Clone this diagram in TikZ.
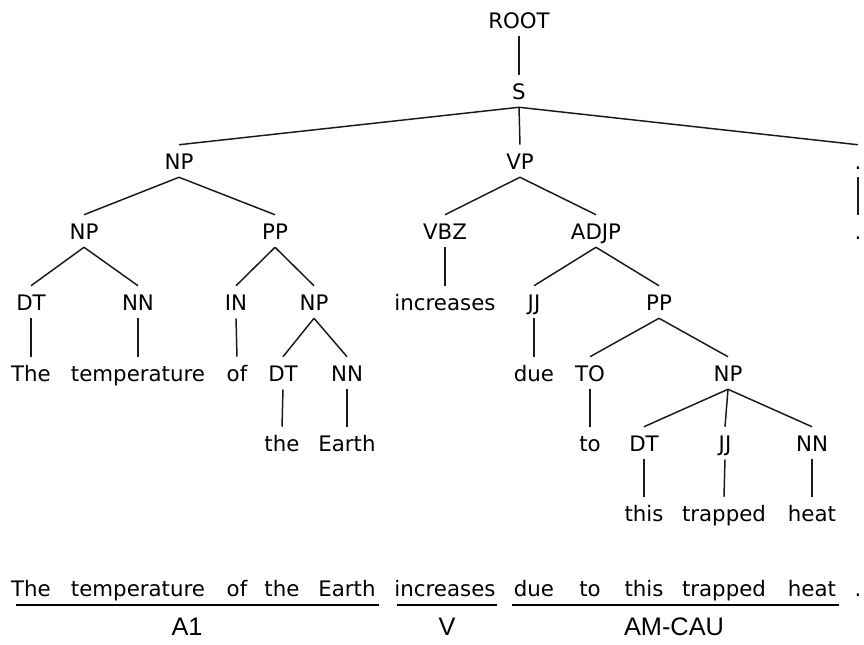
\documentclass[tikz,border=0pt]{standalone}
\usepackage{fontspec}
\newfontfamily\treefont{DejaVu Sans}
\newfontfamily\labfont{Liberation Sans}
\begin{document}
\begin{tikzpicture}[x=0.75pt,y=-0.75pt,
  t/.style={font=\treefont\fontsize{16}{18}\selectfont, text height=12pt, text depth=0pt,
            inner ysep=6pt, inner xsep=0pt, anchor=base, text=black},
  e/.style={line width=1.1pt, black!90},
  lab/.style={font=\labfont\fontsize{19}{22}\selectfont, anchor=base, inner sep=0pt},
  ul/.style={line width=1.1pt, black}]
\useasboundingbox (0,0) rectangle (864,644);
% level 1-3
\node[t] (root) at (519,28) {ROOT};
\node[t] (s) at (519,99) {S};
\node[t] (np1) at (179,169) {NP};
\node[t] (vp) at (520,169) {VP};
\node[t] (dot1) at (858,169) {.};
% level 4
\node[t] (np2) at (84,239) {NP};
\node[t] (pp1) at (275,239) {PP};
\node[t] (vbz) at (445,239) {VBZ};
\node[t] (adjp) at (596,239) {ADJP};
\node[t] (dot2) at (858,239) {.};
% level 5
\node[t] (dt1) at (31,310) {DT};
\node[t] (nn1) at (138,310) {NN};
\node[t] (in) at (236,310) {IN};
\node[t] (np3) at (314,310) {NP};
\node[t] (increases) at (445,310) {increases};
\node[t] (jj1) at (534,310) {JJ};
\node[t] (pp2) at (659,310) {PP};
% level 6
\node[t] (the1) at (31,381) {The};
\node[t] (temp) at (138,381) {temperature};
\node[t] (of) at (237,381) {of};
\node[t] (dt2) at (283,381) {DT};
\node[t] (nn2) at (347,381) {NN};
\node[t] (due) at (534,381) {due};
\node[t] (to1) at (590,381) {TO};
\node[t] (np4) at (728,381) {NP};
% level 7
\node[t] (the2) at (282,451) {the};
\node[t] (earth) at (347,451) {Earth};
\node[t] (to2) at (590,451) {to};
\node[t] (dt3) at (644,451) {DT};
\node[t] (jj2) at (725,451) {JJ};
\node[t] (nn3) at (812,451) {NN};
% level 8
\node[t] (this) at (644,521) {this};
\node[t] (trapped) at (724,521) {trapped};
\node[t] (heat) at (812,521) {heat};
% edges
\draw[e] (root.south) -- (s.north);
\draw[e] (s.south) -- (np1.north);
\draw[e] (s.south) -- (vp.north);
\draw[e] (s.south) -- (dot1.north);
\draw[e] (dot1.south) -- (dot2.north);
\draw[e] (np1.south) -- (np2.north);
\draw[e] (np1.south) -- (pp1.north);
\draw[e] (vp.south) -- (vbz.north);
\draw[e] (vp.south) -- (adjp.north);
\draw[e] (np2.south) -- (dt1.north);
\draw[e] (np2.south) -- (nn1.north);
\draw[e] (pp1.south) -- (in.north);
\draw[e] (pp1.south) -- (np3.north);
\draw[e] (vbz.south) -- (increases.north);
\draw[e] (adjp.south) -- (jj1.north);
\draw[e] (adjp.south) -- (pp2.north);
\draw[e] (dt1.south) -- (the1.north);
\draw[e] (nn1.south) -- (temp.north);
\draw[e] (in.south) -- (of.north);
\draw[e] (np3.south) -- (dt2.north);
\draw[e] (np3.south) -- (nn2.north);
\draw[e] (jj1.south) -- (due.north);
\draw[e] (pp2.south) -- (to1.north);
\draw[e] (pp2.south) -- (np4.north);
\draw[e] (dt2.south) -- (the2.north);
\draw[e] (nn2.south) -- (earth.north);
\draw[e] (to1.south) -- (to2.north);
\draw[e] (np4.south) -- (dt3.north);
\draw[e] (np4.south) -- (jj2.north);
\draw[e] (np4.south) -- (nn3.north);
\draw[e] (dt3.south) -- (this.north);
\draw[e] (jj2.south) -- (trapped.north);
\draw[e] (nn3.south) -- (heat.north);
% sentence
\node[t] (w1) at (31,596) {The};
\node[t] (w2) at (138,596) {temperature};
\node[t] (w3) at (237,596) {of};
\node[t] (w4) at (282,596) {the};
\node[t] (w5) at (347,596) {Earth};
\node[t] (w6) at (445,596) {increases};
\node[t] (w7) at (534,596) {due};
\node[t] (w8) at (590,596) {to};
\node[t] (w9) at (644,596) {this};
\node[t] (w10) at (724,596) {trapped};
\node[t] (w11) at (812,596) {heat};
\node[t] (w12) at (858,596) {.};
% spans
\coordinate (a1l) at (16,605); \coordinate (a1r) at (379,605);
\coordinate (vl) at (397,605); \coordinate (vr) at (497,605);
\coordinate (cl) at (512,605); \coordinate (cr) at (839,605);
\draw[ul] (a1l) -- (a1r);
\draw[ul] (vl) -- (vr);
\draw[ul] (cl) -- (cr);
\node[lab] (la1) at (187,635) {A1};
\node[lab] (lv) at (447,635) {V};
\node[lab] (lc) at (674,635) {AM-CAU};
\end{tikzpicture}
\end{document}
